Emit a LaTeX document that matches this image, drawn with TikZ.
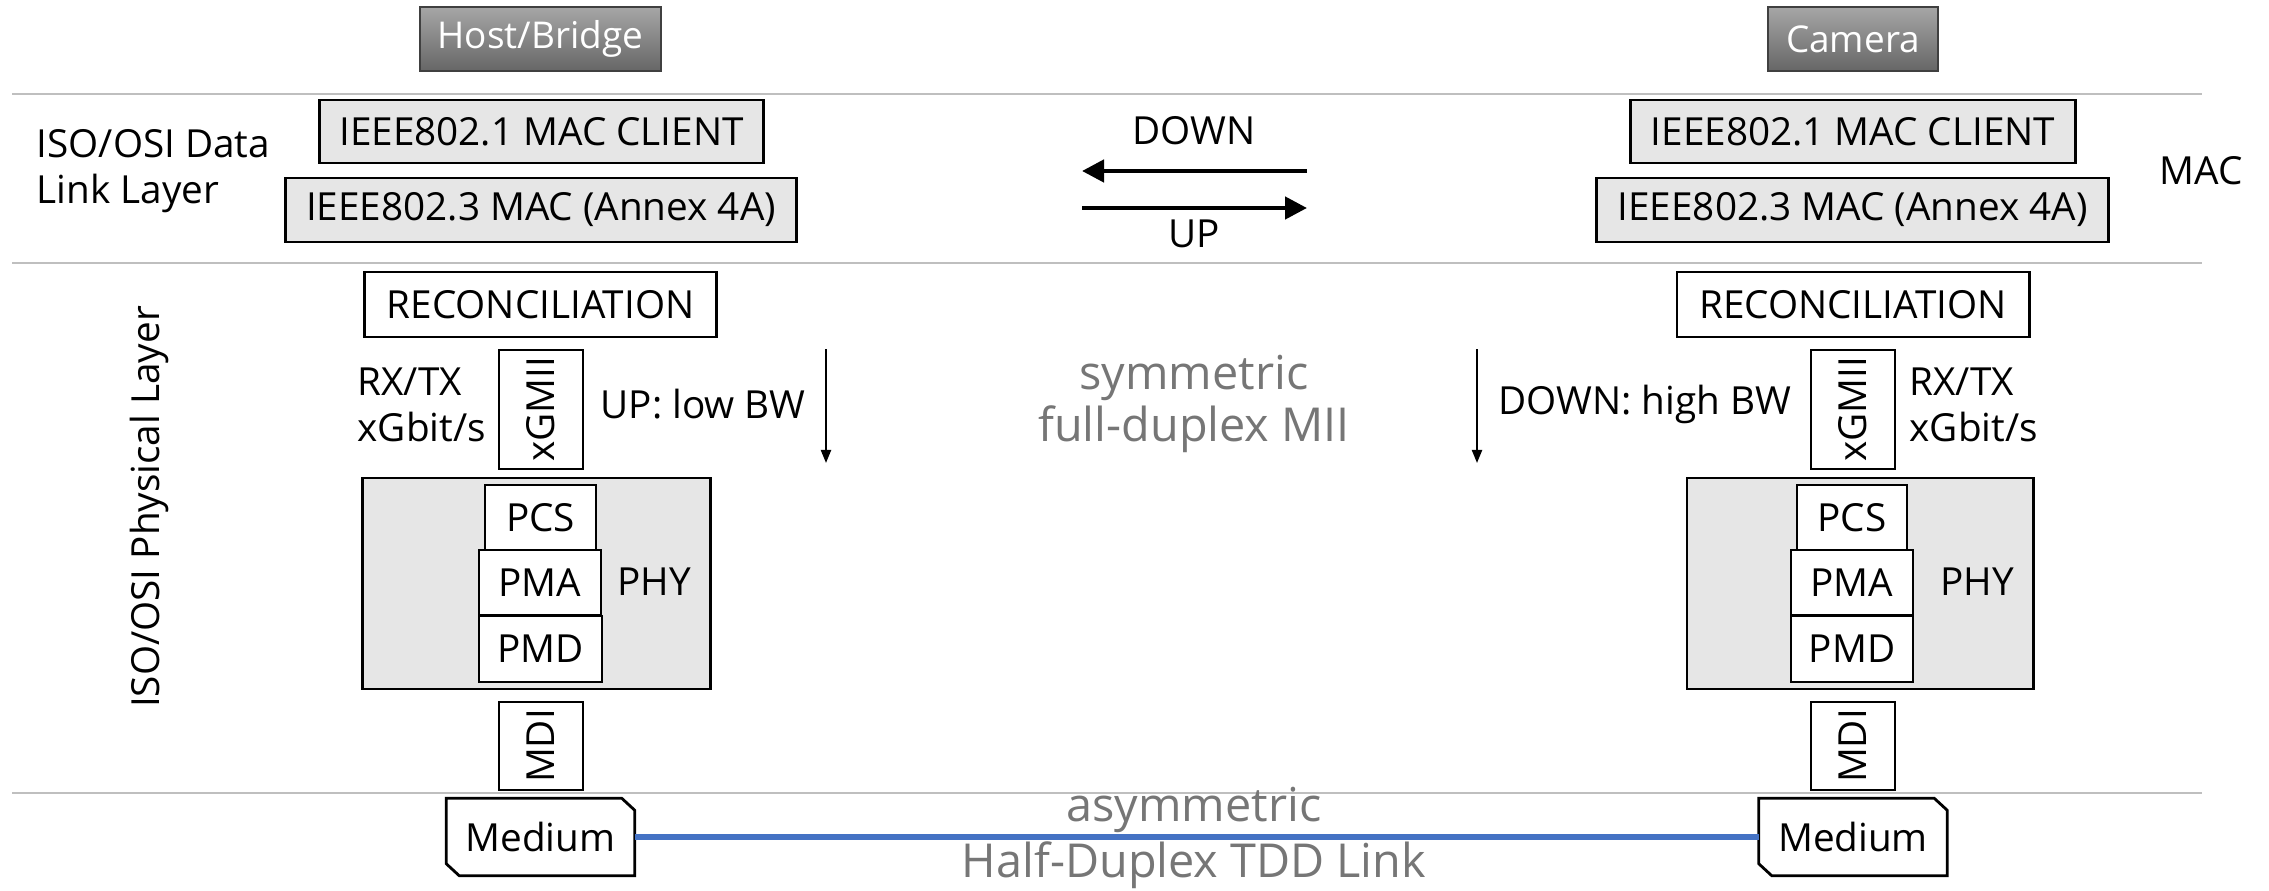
\documentclass[tikz,border=0pt]{standalone}
\usepackage{fontspec}
\setmainfont{Open Sans}
\usetikzlibrary{arrows.meta}
\definecolor{boxgray}{HTML}{E6E6E6}
\definecolor{txtgray}{HTML}{767676}
\definecolor{linkblue}{HTML}{4472C4}
\definecolor{sepgray}{HTML}{BFBFBF}
\begin{document}
\begin{tikzpicture}[x=0.01cm,y=-0.01cm,
 every node/.style={font=\fontsize{11}{13}\selectfont, inner sep=0pt},
 box/.style={draw, line width=0.8pt, fill=white},
 gbox/.style={box, fill=boxgray},
 hbox/.style={draw=black!75, line width=0.6pt, top color=black!35, bottom color=black!60, text=white, font=\fontsize{10.5}{12}\selectfont},
 sepline/.style={draw=sepgray, line width=0.6pt},
 bigarrow/.style={line width=1.3pt, -{Triangle[length=0.22cm,width=0.22cm]}},
 thinarrow/.style={line width=0.6pt, -{Triangle[length=0.13cm,width=0.1cm]}},
 graytext/.style={text=txtgray, font=\fontsize{13.3}{15}\selectfont, align=center},
 medium/.style={minimum width=1.87cm, minimum height=0.76cm},
 chamfer/.style={line width=0.8pt, fill=white},
]
\useasboundingbox (0,0) rectangle (2269,891);

% separators
\draw[sepline] (12,94) -- (2202,94);
\draw[sepline] (12,263) -- (2202,263);
\draw[sepline] (12,793) -- (2202,793);

% top devices
\node[hbox, minimum width=2.41cm, minimum height=0.64cm] (host) at (540.5,39) {Host/Bridge};
\node[hbox, minimum width=1.70cm, minimum height=0.64cm] (cam) at (1853,39) {Camera};

% layer labels
\node[anchor=west, align=left] (dll) at (36,171) {ISO/OSI Data\\Link Layer};
\node[rotate=90] (phl) at (149,507) {ISO/OSI Physical Layer};
\node (mac) at (2201,171) {MAC};

% MAC boxes
\node[gbox, minimum width=4.43cm, minimum height=0.63cm] (clientL) at (541.5,131.5) {IEEE802.1 MAC CLIENT};
\node[gbox, minimum width=5.10cm, minimum height=0.64cm] (macL) at (541,210) {IEEE802.3 MAC (Annex 4A)};
\node[gbox, minimum width=4.44cm, minimum height=0.63cm] (clientR) at (1853,131.5) {IEEE802.1 MAC CLIENT};
\node[gbox, minimum width=5.11cm, minimum height=0.64cm] (macR) at (1852.5,210) {IEEE802.3 MAC (Annex 4A)};

% DOWN / UP arrows
\coordinate (dA) at (1307,171);
\coordinate (dB) at (1082,171);
\coordinate (uA) at (1082,208);
\coordinate (uB) at (1307,208);
\draw[bigarrow] (dA) -- (dB);
\draw[bigarrow] (uA) -- (uB);
\node (down) at (1194,131) {DOWN};
\node (up) at (1194,234) {UP};

% reconciliation
\node[box, minimum width=3.51cm, minimum height=0.65cm] (recL) at (540.5,304.5) {RECONCILIATION};
\node[box, minimum width=3.52cm, minimum height=0.65cm] (recR) at (1853,304.5) {RECONCILIATION};

% xGMII
\node[box, rotate=90, minimum width=1.19cm, minimum height=0.84cm] (xgL) at (541,409.5) {xGMII};
\node[box, rotate=90, minimum width=1.19cm, minimum height=0.84cm] (xgR) at (1853,409.5) {xGMII};
\node[anchor=west, align=left] (rxL) at (357,405) {RX/TX\\xGbit/s};
\node[anchor=west, align=left] (rxR) at (1909,405) {RX/TX\\xGbit/s};
\node[anchor=west] (upbw) at (600,404) {UP: low BW};
\node[anchor=west] (downbw) at (1498,404) {DOWN: high BW};
\coordinate (aL1) at (826,349);
\coordinate (aL2) at (826,463);
\coordinate (aR1) at (1477,349);
\coordinate (aR2) at (1477,463);
\draw[thinarrow] (aL1) -- (aL2);
\draw[thinarrow] (aR1) -- (aR2);
\node[graytext] (sym) at (1194,404) {symmetric\\full-duplex MII};

% PHY
\node[gbox, minimum width=3.47cm, minimum height=2.11cm] (phyL) at (536.5,583.5) {};
\node[gbox, minimum width=3.46cm, minimum height=2.11cm] (phyR) at (1860,583.5) {};
\node[box, minimum width=1.11cm, minimum height=0.65cm] (pcsL) at (540.5,517.5) {PCS};
\node[box, minimum width=1.22cm, minimum height=0.65cm] (pmaL) at (540,582.5) {PMA};
\node[box, minimum width=1.23cm, minimum height=0.66cm] (pmdL) at (540.5,649) {PMD};
\node (phytL) at (654,582) {PHY};
\node[box, minimum width=1.10cm, minimum height=0.65cm] (pcsR) at (1852,517.5) {PCS};
\node[box, minimum width=1.22cm, minimum height=0.65cm] (pmaR) at (1852,582.5) {PMA};
\node[box, minimum width=1.22cm, minimum height=0.66cm] (pmdR) at (1852,649) {PMD};
\node (phytR) at (1977,582) {PHY};

% MDI
\node[box, rotate=90, minimum width=0.88cm, minimum height=0.84cm] (mdiL) at (541,746) {MDI};
\node[box, rotate=90, minimum width=0.88cm, minimum height=0.84cm] (mdiR) at (1853,746) {MDI};

% Medium
\node[medium] (medL) at (540.5,837) {};
\node[medium] (medR) at (1853,837) {};
\draw[chamfer] (medL.north west) -- ([xshift=-0.13cm]medL.north east) -- ([yshift=-0.12cm]medL.north east) -- (medL.south east) -- ([xshift=0.13cm]medL.south west) -- ([yshift=0.12cm]medL.south west) -- cycle;
\draw[chamfer] (medR.north west) -- ([xshift=-0.13cm]medR.north east) -- ([yshift=-0.12cm]medR.north east) -- (medR.south east) -- ([xshift=0.13cm]medR.south west) -- ([yshift=0.12cm]medR.south west) -- cycle;
\node at (medL) {Medium};
\node at (medR) {Medium};
\draw[linkblue, line width=1.5pt] (medL.east) -- (medR.west);
\node[graytext] (asym) at (1194,810) {asymmetric};
\node[graytext] (hd) at (1194,865) {Half-Duplex TDD Link};
\end{tikzpicture}
\end{document}
